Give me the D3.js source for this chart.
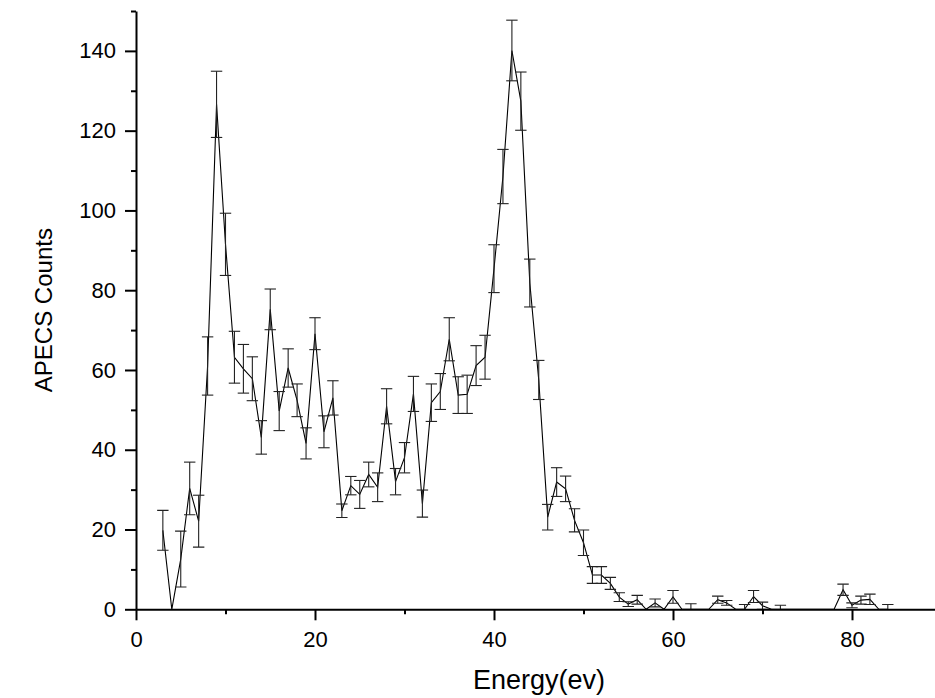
<!DOCTYPE html>
<html>
<head>
<meta charset="utf-8">
<script src="https://cdn.jsdelivr.net/npm/d3@7/dist/d3.min.js"></script>
<style>
  html, body { margin: 0; padding: 0; background: #fff; }
  svg { display: block; }
  text { font-family: "Liberation Sans", Arial, Helvetica, sans-serif; fill: #000; }
</style>
</head>
<body>
<svg id="chart" width="935" height="698"></svg>
<script>
// Electron energy (eV) of each channel
const energy = [
  3, 4, 5, 6, 7, 8, 9, 10, 11, 12, 13, 14, 15, 16, 17, 18, 19, 20,
  21, 22, 23, 24, 25, 26, 27, 28, 29, 30, 31, 32, 33, 34, 35, 36, 37, 38, 39, 40,
  41, 42, 43, 44, 45, 46, 47, 48, 49, 50, 51, 52, 53, 54, 55, 56, 57, 58, 59, 60,
  61, 62, 63, 64, 65, 66, 67, 68, 69, 70, 71, 72, 73, 74, 75, 76, 77, 78, 79, 80,
  81, 82, 83, 84
];

// APECS counts per channel
const counts = [
  19.8, 0, 12.6, 30.3, 22.1, 61.0, 126.6, 91.5, 63.2, 60.3, 57.8, 43.1, 75.2, 49.7, 60.5, 52.4, 41.6, 69.1,
  44.5, 53.0, 24.7, 31.0, 28.8, 33.8, 30.6, 50.9, 32.0, 38.0, 54.0, 26.5, 51.8, 54.6, 67.7, 53.7, 53.9, 61.1, 63.2, 85.4,
  108.5, 140.1, 127.4, 81.8, 57.5, 23.1, 31.9, 30.2, 22.3, 16.7, 8.6, 8.6, 6.5, 3.05, 1.3, 2.4, 0, 1.6, 0, 3.1,
  0, 0, 0, 0, 2.4, 1.6, 0, 0, 3.2, 0.9, 0, 0, 0, 0, 0, 0, 0, 0, 4.9, 1.0,
  2.3, 2.5, 0, 0
];

// Statistical uncertainty of each count
const errors = [
  5.0, 0, 7.0, 6.6, 6.5, 7.3, 8.3, 7.8, 6.5, 6.1, 5.5, 4.2, 5.1, 4.9, 4.8, 4.1, 3.9, 4.0,
  4.0, 4.3, 1.7, 2.3, 3.5, 3.1, 3.6, 4.4, 3.3, 3.8, 4.4, 3.4, 4.7, 4.5, 5.4, 4.6, 4.8, 5.0, 5.5, 6.0,
  6.8, 7.6, 7.3, 6.0, 4.9, 3.2, 3.6, 3.2, 2.9, 3.2, 2.1, 2.1, 1.5, 1.1, 0.6, 1.1, 0, 1.0, 0, 1.6,
  0, 1.4, 0, 0, 0.9, 0.6, 0, 1.2, 1.5, 0.9, 0, 1.0, 0, 0, 0, 0, 0, 0, 1.4, 0.6,
  1.0, 1.3, 0, 1.2
];

const xMajorTicks = [0, 20, 40, 60, 80];
const xMinorTicks = [10, 30, 50, 70];
const yMajorTicks = [0, 20, 40, 60, 80, 100, 120, 140];
const yMinorTicks = [10, 30, 50, 70, 90, 110, 130, 150];

const xTitle = "Energy(ev)";
const yTitle = "APECS Counts";

const data = energy.map((e, i) => ({ e, v: counts[i], err: errors[i] }));

const svg = d3.select("#chart");
const W = 935, H = 698;

const x = d3.scaleLinear().domain([0, 90]).range([136, 941.5]);
const y = d3.scaleLinear().domain([0, 150]).range([609.3, 11]);

// Plot area clip (counts are non-negative; anything below zero is hidden)
svg.append("defs").append("clipPath").attr("id", "plotClip")
  .append("rect")
  .attr("x", x(0)).attr("y", 0)
  .attr("width", W - x(0)).attr("height", y(0));

const plot = svg.append("g").attr("clip-path", "url(#plotClip)");

// Connecting line
plot.append("path")
  .datum(data)
  .attr("fill", "none")
  .attr("stroke", "#000")
  .attr("stroke-width", 1.1)
  .attr("stroke-linejoin", "miter")
  .attr("d", d3.line().x(d => x(d.e)).y(d => y(d.v)));

// Error bars with caps
const capHalf = 5.7;
const bars = plot.append("g")
  .attr("stroke", "#222")
  .attr("stroke-width", 1.1)
  .selectAll("g")
  .data(data.filter(d => d.err > 0))
  .join("g");

bars.append("line")
  .attr("x1", d => x(d.e)).attr("x2", d => x(d.e))
  .attr("y1", d => y(d.v + d.err)).attr("y2", d => y(d.v - d.err));
bars.append("line")
  .attr("x1", d => x(d.e) - capHalf).attr("x2", d => x(d.e) + capHalf)
  .attr("y1", d => y(d.v + d.err)).attr("y2", d => y(d.v + d.err));
bars.append("line")
  .attr("x1", d => x(d.e) - capHalf).attr("x2", d => x(d.e) + capHalf)
  .attr("y1", d => y(d.v - d.err)).attr("y2", d => y(d.v - d.err));

// X axis
const xAxis = svg.append("g").attr("transform", `translate(0,${y(0)})`);
xAxis.call(d3.axisBottom(x).tickValues(xMajorTicks).tickSize(11).tickSizeOuter(0).tickPadding(11).tickFormat(d3.format("d")));
xAxis.append("g").call(d3.axisBottom(x).tickValues(xMinorTicks).tickSize(5).tickSizeOuter(0).tickFormat(""))
  .select(".domain").remove();
xAxis.selectAll(".domain").attr("stroke", "#000").attr("stroke-width", 2);
xAxis.selectAll(".tick line").attr("stroke", "#000").attr("stroke-width", 2);
xAxis.selectAll(".tick text").attr("font-size", 22).attr("font-family", "Liberation Sans, Arial, sans-serif");

// Y axis
const yAxis = svg.append("g").attr("transform", `translate(${x(0)},0)`);
yAxis.call(d3.axisLeft(y).tickValues(yMajorTicks).tickSize(11).tickSizeOuter(0).tickPadding(9).tickFormat(d3.format("d")));
yAxis.append("g").call(d3.axisLeft(y).tickValues(yMinorTicks).tickSize(5).tickSizeOuter(0).tickFormat(""))
  .select(".domain").remove();
yAxis.selectAll(".domain").attr("stroke", "#000").attr("stroke-width", 2);
yAxis.selectAll(".tick line").attr("stroke", "#000").attr("stroke-width", 2);
yAxis.selectAll(".tick text").attr("font-size", 22).attr("font-family", "Liberation Sans, Arial, sans-serif");

// Axis titles
svg.append("text")
  .attr("x", 539).attr("y", 689)
  .attr("text-anchor", "middle")
  .attr("font-size", 27)
  .text(xTitle);

svg.append("text")
  .attr("transform", `translate(52,${(y(0) + y(150)) / 2}) rotate(-90)`)
  .attr("text-anchor", "middle")
  .attr("font-size", 24)
  .text(yTitle);
</script>
</body>
</html>
